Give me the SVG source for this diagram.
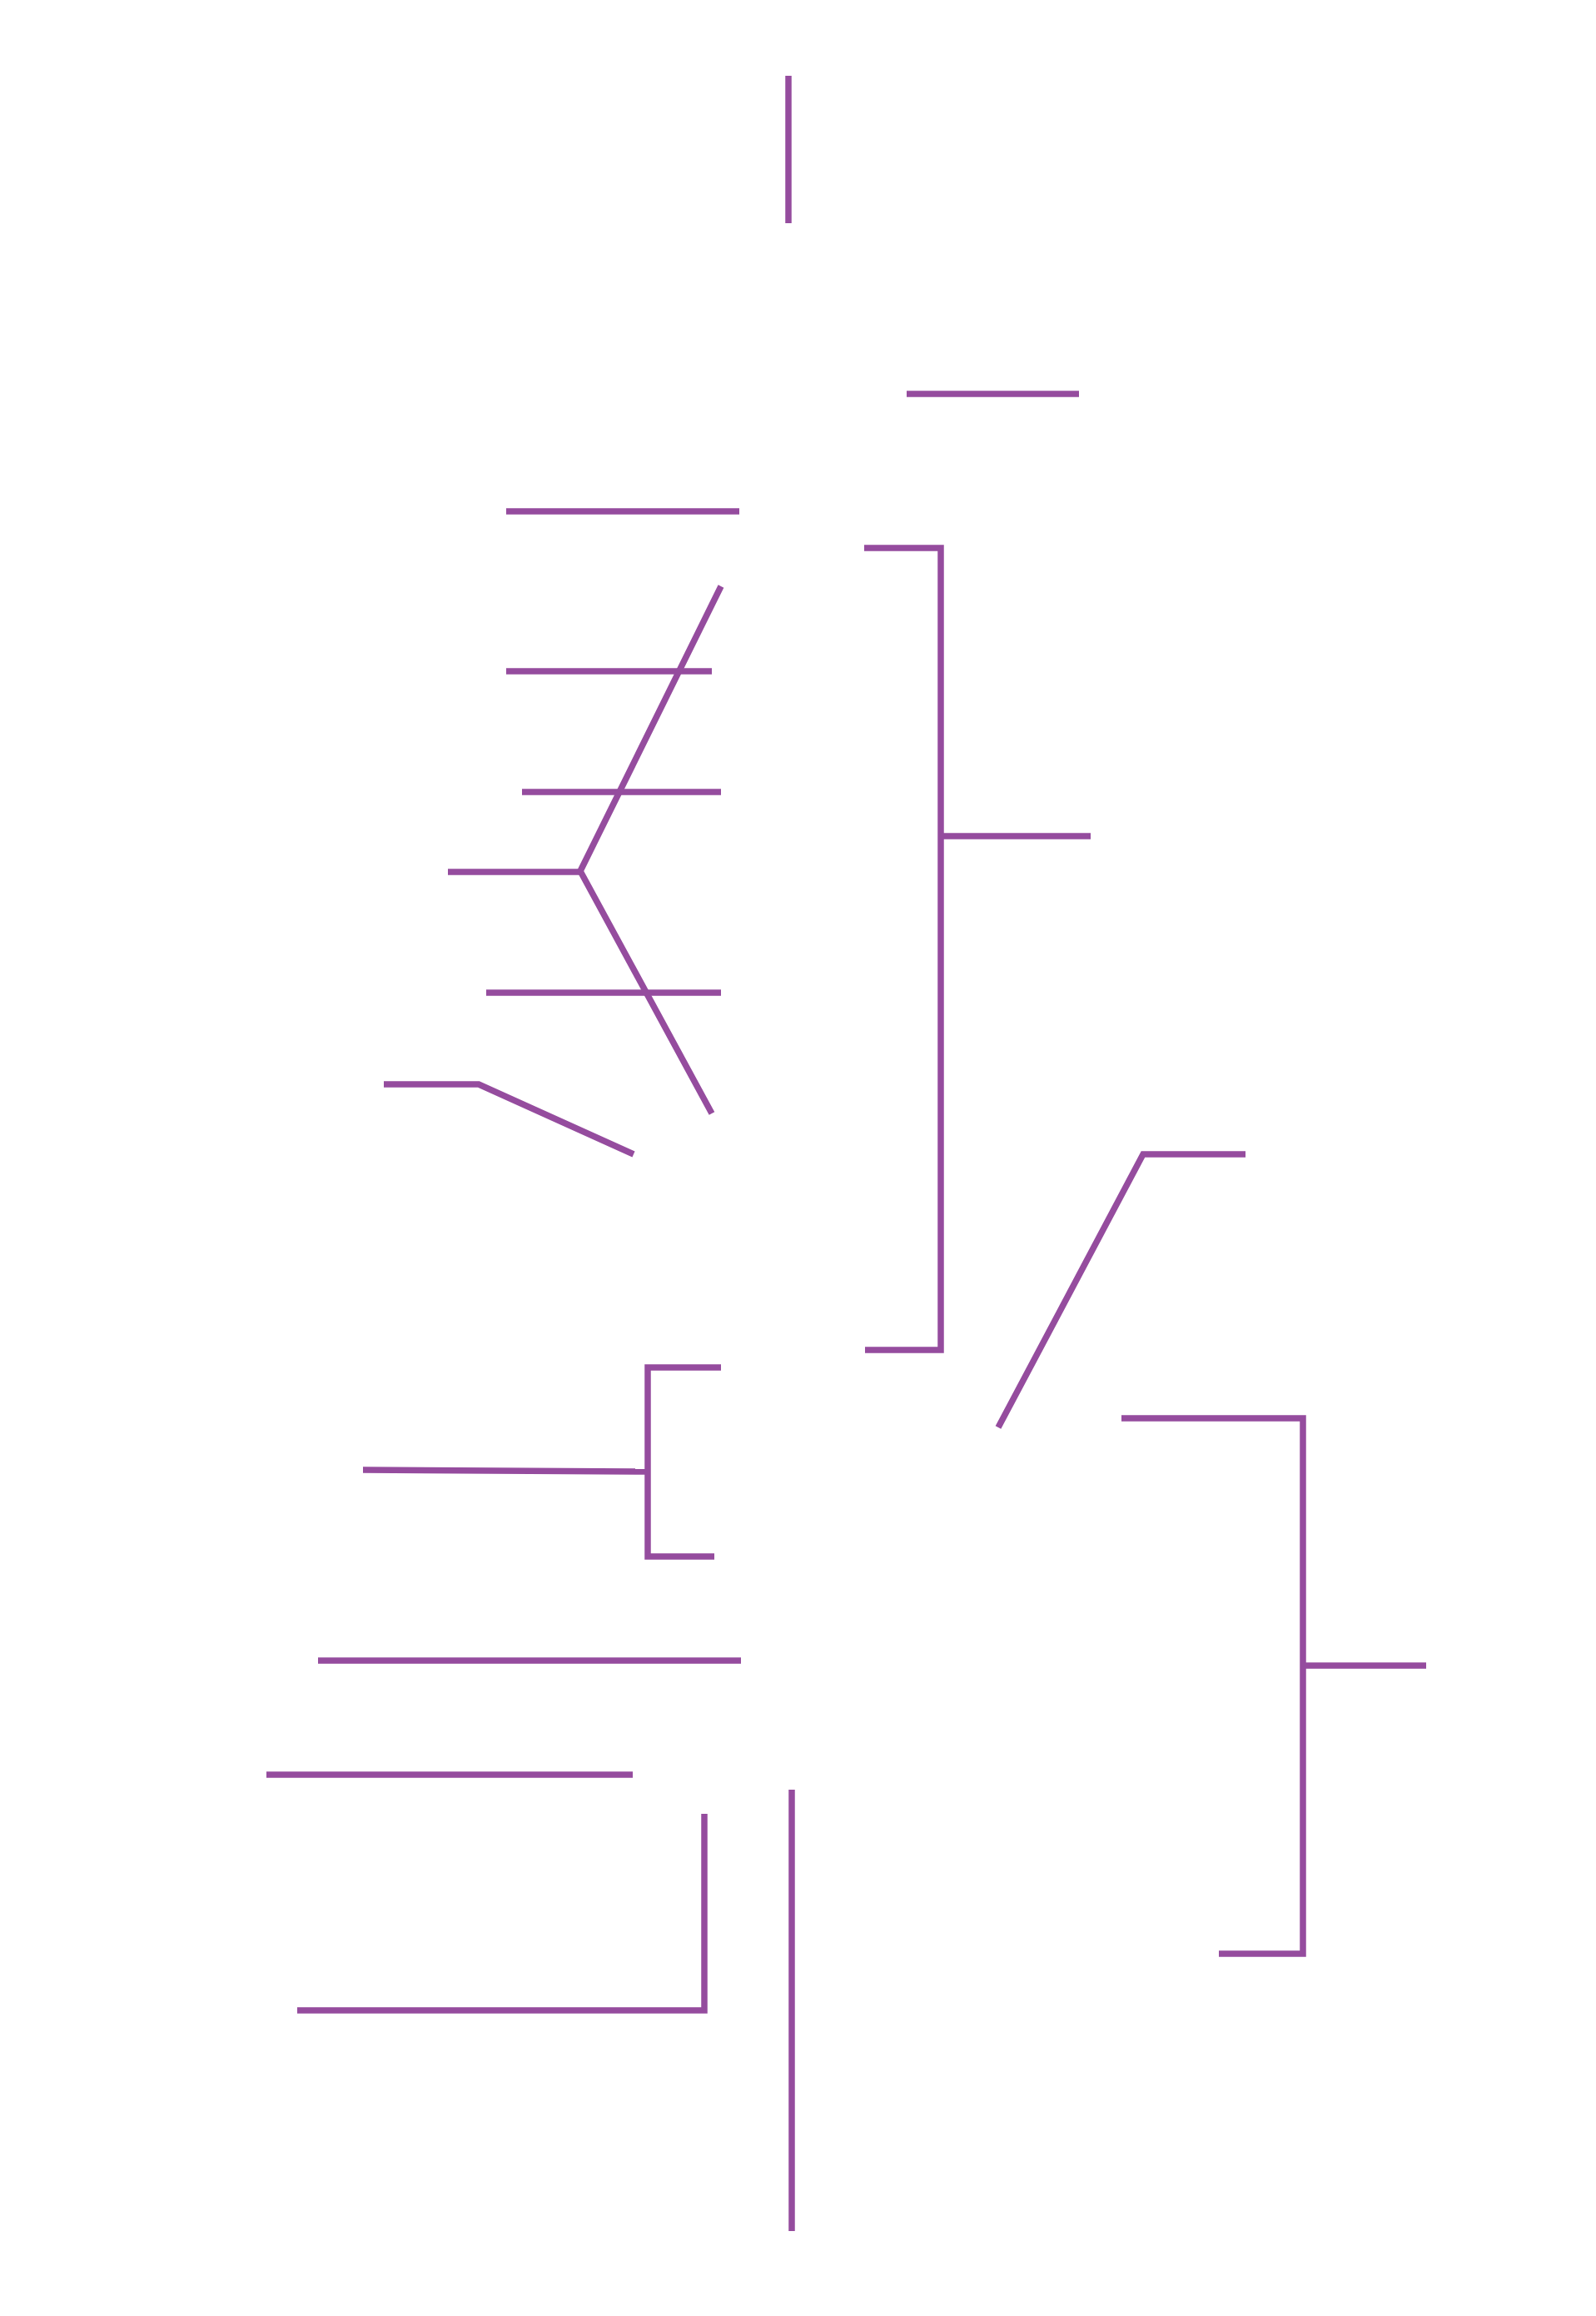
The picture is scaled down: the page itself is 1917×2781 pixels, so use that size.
<svg xmlns="http://www.w3.org/2000/svg" width="1917" height="2781" viewBox="0 0 1917 2781">
  <style>
    .c { fill: none; stroke: #954c9e; stroke-width: 7.5; stroke-linecap: butt; stroke-linejoin: miter; }
  </style>
  <rect width="1917" height="2781" fill="#ffffff"/>
  <g id="connectors">
    <path class="c" d="M947,91 V268"/>
    <path class="c" d="M1089,473 H1296"/>
    <path class="c" d="M608,614 H888"/>
    <path class="c" d="M1038,658 H1130 V1621 H1039"/>
    <path class="c" d="M1130,1004 H1310"/>
    <path class="c" d="M866,704 L697,1046 L855,1337"/>
    <path class="c" d="M608,806 H855"/>
    <path class="c" d="M627,951 H866"/>
    <path class="c" d="M538,1047 H697"/>
    <path class="c" d="M584,1192 H866"/>
    <path class="c" d="M461,1302 H575 L761,1386"/>
    <path class="c" d="M1199,1714 L1373,1386 H1496"/>
    <path class="c" d="M1347,1703 H1565 V2346 H1464"/>
    <path class="c" d="M1565,2000 H1713"/>
    <path class="c" d="M866,1642 H778 V1869 H858"/>
    <path class="c" d="M436,1765 L778,1767"/>
    <path class="c" d="M382,1994 H890"/>
    <path class="c" d="M320,2131 H760"/>
    <path class="c" d="M846,2178 V2414 H357"/>
    <path class="c" d="M951,2149 V2679"/>
  </g>
</svg>
